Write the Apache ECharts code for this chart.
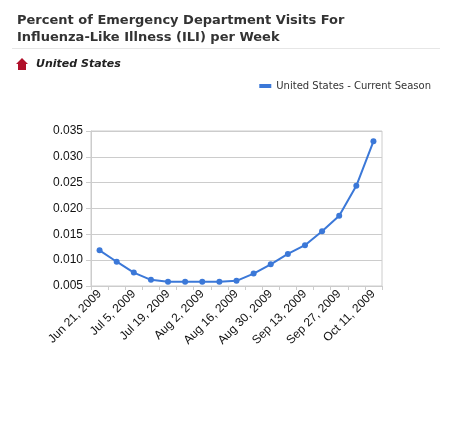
<!DOCTYPE html>
<html>
<head>
<meta charset="utf-8">
<script src="https://cdn.jsdelivr.net/npm/echarts@6/dist/echarts.min.js"></script>
<style>
  html, body { margin: 0; padding: 0; background: #fff; }
  #main { width: 454px; height: 432px; }
</style>
</head>
<body>
<div id="main"></div>
<script>
var weeks = ['Jun 21, 2009', 'Jun 28, 2009', 'Jul 5, 2009', 'Jul 12, 2009', 'Jul 19, 2009',
  'Jul 26, 2009', 'Aug 2, 2009', 'Aug 9, 2009', 'Aug 16, 2009', 'Aug 23, 2009',
  'Aug 30, 2009', 'Sep 6, 2009', 'Sep 13, 2009', 'Sep 20, 2009', 'Sep 27, 2009',
  'Oct 4, 2009', 'Oct 11, 2009'];
var currentSeason = [0.0119, 0.0097, 0.0076, 0.0062, 0.0058, 0.0058, 0.0058, 0.0058, 0.0060,
  0.0074, 0.0092, 0.0112, 0.0129, 0.0156, 0.0186, 0.0244, 0.0330];
var seriesName = 'United States - Current Season';

var myChart = echarts.init(document.getElementById('main'));
var option = {
  backgroundColor: '#fff',
  animation: false,
  graphic: [
    {
      type: 'text',
      left: 17,
      top: 12,
      style: {
        text: 'Percent of Emergency Department Visits For\nInfluenza-Like Illness (ILI) per Week',
        font: 'bold 13px "DejaVu Sans"',
        lineHeight: 17,
        fill: '#333'
      }
    },
    {
      type: 'rect',
      shape: { x: 12, y: 48, width: 428, height: 1 },
      style: { fill: '#e6e6e6' }
    },
    {
      // little red house marker
      type: 'polygon',
      shape: { points: [[22, 58], [28, 64], [26, 64], [26, 70], [18, 70], [18, 64], [16, 64]] },
      style: { fill: '#b0102a' }
    },
    {
      type: 'text',
      left: 36,
      top: 59,
      style: {
        text: 'United States',
        font: 'italic bold 11px "DejaVu Sans"',
        fill: '#222'
      }
    }
  ],
  legend: {
    data: [seriesName],
    right: 18,
    top: 76,
    icon: 'rect',
    itemWidth: 12,
    itemHeight: 4,
    itemGap: 5,
    textStyle: {
      fontFamily: 'DejaVu Sans',
      fontSize: 10,
      color: '#333'
    }
  },
  grid: {
    left: 91,
    right: 72,
    top: 131,
    bottom: 146,
    show: true,
    borderColor: '#cccccc',
    borderWidth: 1
  },
  xAxis: {
    type: 'category',
    data: weeks,
    boundaryGap: true,
    axisLine: { lineStyle: { color: '#cccccc' } },
    axisTick: { show: true, interval: 0, length: 4, lineStyle: { color: '#cccccc' } },
    axisLabel: {
      interval: 1,
      rotate: 45,
      fontFamily: 'Liberation Sans',
      fontSize: 12,
      color: '#111',
      margin: 6
    }
  },
  yAxis: {
    type: 'value',
    min: 0.005,
    max: 0.035,
    interval: 0.005,
    axisLine: { show: true, lineStyle: { color: '#cccccc' } },
    axisTick: { show: true, length: 5, lineStyle: { color: '#cccccc' } },
    splitLine: { lineStyle: { color: '#cccccc' } },
    axisLabel: {
      fontFamily: 'Liberation Sans',
      fontSize: 12,
      color: '#111',
      margin: 8,
      formatter: function (v) { return v.toFixed(3); }
    }
  },
  series: [{
    name: seriesName,
    type: 'line',
    data: currentSeason,
    symbol: 'circle',
    symbolSize: 6,
    showAllSymbol: true,
    lineStyle: { color: '#3b78d8', width: 2 },
    itemStyle: { color: '#3b78d8' }
  }]
};
myChart.setOption(option);
</script>
</body>
</html>
